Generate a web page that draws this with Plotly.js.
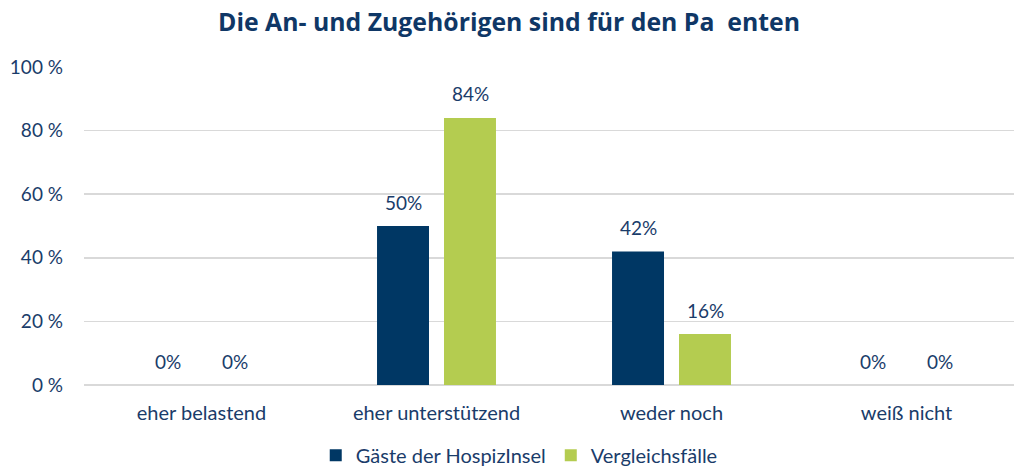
<!DOCTYPE html>
<html>
<head>
<meta charset="utf-8">
<script src="https://cdn.plot.ly/plotly-3.0.1.min.js"></script>
<style>html,body{margin:0;padding:0;background:#fff;}#chart{width:1014px;height:475px;}</style>
</head>
<body>
<div id="chart"></div>
<script>
const titleText = "Die An- und Zugehörigen sind für den Pa\u00a0\u00a0enten";
const categories = ["eher belastend", "eher unterstützend", "weder noch", "weiß nicht"];
const seriesNames = ["Gäste der HospizInsel", "Vergleichsfälle"];
const gaeste = [0, 50, 42, 0];
const vergleich = [0, 84, 16, 0];
const yTickVals = [0, 20, 40, 60, 80, 100];
const yTickText = ["0 %", "20 %", "40 %", "60 %", "80 %", "100 %"];

const textColor = "#1a3c6a";
const fontFamily = "Lato, 'Open Sans', sans-serif";
const colors = ["#003764", "#b4cc50"];

const traces = [
  {type: "bar", name: seriesNames[0], x: categories, y: gaeste, marker: {color: colors[0]}, hoverinfo: "skip"},
  {type: "bar", name: seriesNames[1], x: categories, y: vergleich, marker: {color: colors[1]}, hoverinfo: "skip"}
];

const annotations = [];
[gaeste, vergleich].forEach((vals, si) => {
  vals.forEach((v, i) => {
    annotations.push({
      x: categories[i], y: v, xref: "x", yref: "y",
      text: v + "%", showarrow: false,
      xshift: si === 0 ? -33.5 : 33.5, yshift: 24, yanchor: "middle",
      font: {family: fontFamily, size: 19, color: textColor}
    });
  });
});

const layout = {
  width: 1014, height: 475,
  margin: {l: 84, r: 0, t: 67, b: 90},
  paper_bgcolor: "#fff", plot_bgcolor: "#fff",
  title: {text: "<b>" + titleText + "</b>", x: 0.502, xanchor: "center", y: 0.953, yanchor: "middle",
          font: {family: "'Open Sans', sans-serif", size: 24.8, color: "#0f3766"}},
  barmode: "group", bargap: 0.43, bargroupgap: 0.224,
  xaxis: {type: "category", range: [-0.5, 3.4574], showgrid: false, zeroline: false, showline: false,
          ticks: "", tickfont: {family: fontFamily, size: 20, color: textColor}, ticklabelstandoff: 14, fixedrange: true},
  yaxis: {range: [0, 100], tickvals: yTickVals, ticktext: yTickText, showgrid: true, gridcolor: "#d9d9d9", gridwidth: 1.5,
          zeroline: true, zerolinecolor: "#d9d9d9", zerolinewidth: 1.5, showline: false, ticks: "",
          tickfont: {family: fontFamily, size: 19, color: textColor}, ticklabelstandoff: 20, fixedrange: true},
  showlegend: true,
  legend: {orientation: "h", x: 0.468, xanchor: "center", y: -0.2825, yanchor: "bottom",
           font: {family: fontFamily, size: 20, color: textColor}, itemwidth: 30, traceorder: "normal"},
  annotations: annotations
};

Plotly.newPlot("chart", traces, layout, {displayModeBar: false, staticPlot: true});
</script>
</body>
</html>
